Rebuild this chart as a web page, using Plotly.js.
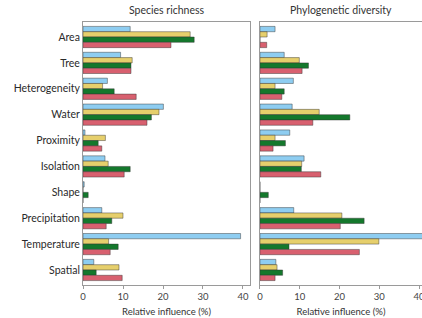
<!DOCTYPE html>
<html>
<head>
<meta charset="utf-8">
<script src="https://cdn.plot.ly/plotly-3.0.1.min.js"></script>
<style>html,body{margin:0;padding:0;background:#fff;}#chart{width:422px;height:318px;}</style>
</head>
<body>
<div id="chart"></div>
<script>
const categories = ["Area","Tree","Heterogeneity","Water","Proximity","Isolation","Shape","Precipitation","Temperature","Spatial"];
// Species richness (left panel)
const srBlue   = [11.8, 9.4, 6.1, 20.1, 0.5, 5.5, 0.3, 4.7, 39.4, 2.7];
const srYellow = [26.8, 12.3, 4.9, 19.0, 5.6, 6.3, 0, 10.0, 6.4, 9.0];
const srGreen  = [27.8, 12.0, 7.8, 17.1, 3.8, 11.8, 1.3, 7.2, 8.8, 3.3];
const srRed    = [22.0, 12.0, 13.3, 16.0, 4.7, 10.3, 0, 5.8, 6.8, 9.8];
// Phylogenetic diversity (right panel)
const pdBlue   = [3.8, 6.1, 8.4, 8.1, 7.5, 11.1, 0, 8.5, 42, 4.0];
const pdYellow = [1.8, 9.9, 3.8, 14.9, 3.8, 10.5, 0, 20.6, 29.9, 4.3];
const pdGreen  = [0, 12.2, 6.1, 22.6, 6.4, 10.4, 2.1, 26.2, 7.3, 5.7];
const pdRed    = [1.7, 10.6, 5.5, 13.3, 3.3, 15.3, 0, 20.2, 25.0, 3.8];
const xTickVals = [0, 10, 20, 30, 40];
const panelTitles = ["Species richness", "Phylogenetic diversity"];
const xTitle = "Relative influence (%)";

const colors = ["#8ecdf1", "#e6cf6c", "#14782c", "#d8606f"];
const FONT = "Lato, 'Open Sans', sans-serif";
const bargap = 0.18;

function mk(vals, color, xa, ya) {
  return {type: "bar", orientation: "h", x: vals, y: categories, xaxis: xa, yaxis: ya,
    marker: {color: color, line: {color: "rgba(50,50,50,0.75)", width: 0.6}},
    showlegend: false, hoverinfo: "x+y"};
}
const traces = [
  mk(srBlue, colors[0], "x", "y"), mk(srYellow, colors[1], "x", "y"),
  mk(srGreen, colors[2], "x", "y"), mk(srRed, colors[3], "x", "y"),
  mk(pdBlue, colors[0], "x2", "y2"), mk(pdYellow, colors[1], "x2", "y2"),
  mk(pdGreen, colors[2], "x2", "y2"), mk(pdRed, colors[3], "x2", "y2")
];

// small ticks at the bar edges
const minorTicks = [];
const w = (1 - bargap) / 4;
for (let i = 0; i < categories.length; i++) {
  for (let k = 0; k <= 4; k++) minorTicks.push(i - (1 - bargap) / 2 + k * w);
}
const yRange = [9.58, -0.58];
const lineCol = "#9a9a9a";

const xBase = {showline: true, mirror: true, linecolor: lineCol, linewidth: 1, showgrid: false, zeroline: false,
  tickmode: "array", tickvals: xTickVals, ticks: "outside", ticklen: 3, tickcolor: lineCol,
  ticklabeloverflow: "allow",
  tickfont: {family: FONT, size: 9.5, color: "#444"},
  title: {text: xTitle, font: {family: FONT, size: 9.5, color: "#333"}, standoff: 6}};
const yBase = {type: "category", categoryorder: "array", categoryarray: categories, range: yRange,
  showline: true, mirror: true, linecolor: lineCol, linewidth: 1, showgrid: false, zeroline: false,
  ticks: "", tickfont: {family: FONT, size: 10.5, color: "#2a2a2a"}};
const yMinor = {type: "linear", range: yRange, tickmode: "array", tickvals: minorTicks, ticks: "outside",
  ticklen: 2.5, tickwidth: 0.8, tickcolor: "#888", showticklabels: false, showline: false, showgrid: false, zeroline: false};

const layout = {
  width: 422, height: 318,
  margin: {l: 83, r: 0, t: 22, b: 33},
  paper_bgcolor: "#fff", plot_bgcolor: "#fff",
  barmode: "group", bargap: bargap, bargroupgap: 0,
  xaxis: Object.assign({}, xBase, {domain: [0, 0.4926], range: [0, 41.75], anchor: "y"}),
  xaxis2: Object.assign({}, xBase, {domain: [0.522, 1], range: [0, 40.75], anchor: "y2"}),
  yaxis: Object.assign({}, yBase, {anchor: "x"}),
  yaxis2: Object.assign({}, yBase, {anchor: "x2", showticklabels: false}),
  yaxis3: Object.assign({}, yMinor, {anchor: "x", overlaying: "y", side: "left"}),
  yaxis4: Object.assign({}, yMinor, {anchor: "x2", overlaying: "y2", side: "left"}),
  annotations: [
    {text: panelTitles[0], xref: "x domain", yref: "paper", x: 0.5, y: 1, yshift: 4, yanchor: "bottom", showarrow: false,
      font: {family: FONT, size: 10.5, color: "#333"}},
    {text: panelTitles[1], xref: "x2 domain", yref: "paper", x: 0.5, y: 1, yshift: 4, yanchor: "bottom", showarrow: false,
      font: {family: FONT, size: 10.5, color: "#333"}}
  ]
};
Plotly.newPlot("chart", traces, layout, {displayModeBar: false, staticPlot: true});
</script>
</body>
</html>
